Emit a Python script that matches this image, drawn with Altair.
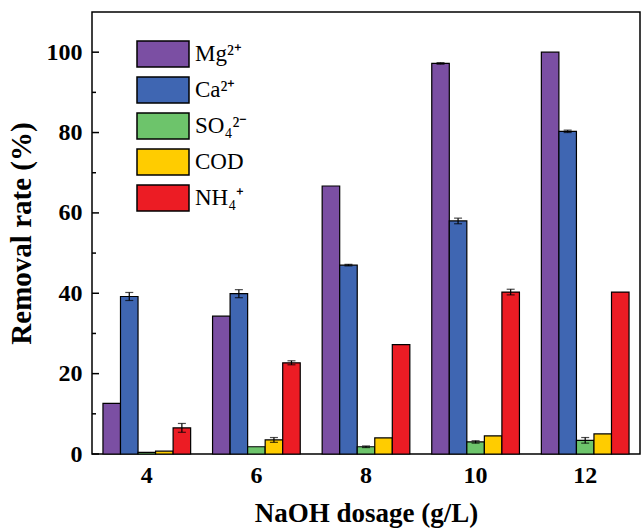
import altair as alt
import pandas as pd

dosage = ["4", "6", "8", "10", "12"]
series = ["Mg²⁺", "Ca²⁺", "SO₄²⁻", "COD", "NH₄⁺"]
colors = ["#7B4FA3", "#3F66B2", "#6DC46B", "#FFCC00", "#EC1C24"]

mg = [12.6, 34.3, 66.7, 97.2, 100.0]
ca = [39.2, 39.9, 47.0, 58.0, 80.3]
so4 = [0.4, 1.8, 1.8, 3.0, 3.4]
cod = [0.7, 3.5, 4.0, 4.5, 5.0]
nh4 = [6.5, 22.7, 27.2, 40.3, 40.3]

mg_err = [0.0, 0.0, 0.0, 0.2, 0.0]
ca_err = [1.0, 1.0, 0.2, 0.7, 0.3]
so4_err = [0.0, 0.0, 0.2, 0.3, 0.7]
cod_err = [0.0, 0.6, 0.0, 0.0, 0.0]
nh4_err = [1.1, 0.5, 0.0, 0.7, 0.0]

major_ticks = [0, 20, 40, 60, 80, 100]
minor_ticks = [10, 30, 50, 70, 90]

rows = []
for s, vals, errs in zip(series, [mg, ca, so4, cod, nh4],
                         [mg_err, ca_err, so4_err, cod_err, nh4_err]):
    for d, v, e in zip(dosage, vals, errs):
        rows.append({"dosage": d, "series": s, "value": v, "err": e,
                     "lo": v - e, "hi": v + e})
df = pd.DataFrame(rows)
df_err = df[df["err"] > 0]

FONT = "Liberation Serif"

x_enc = alt.X("dosage:N", sort=dosage,
              scale=alt.Scale(paddingInner=0.2, paddingOuter=0.1),
              axis=alt.Axis(title="NaOH dosage (g/L)", labelAngle=0, ticks=False,
                            domain=False, labelPadding=9, titlePadding=13,
                            titleFontSize=27))
xo = alt.XOffset("series:N", sort=series, scale=alt.Scale(paddingInner=0, paddingOuter=0))
y_scale = alt.Scale(domain=[0, 110], nice=False)

bars = alt.Chart(df).mark_bar(stroke="black", strokeWidth=1.2).encode(
    x=x_enc,
    xOffset=xo,
    y=alt.Y("value:Q", scale=y_scale,
            axis=alt.Axis(title="Removal rate (%)", values=major_ticks, ticks=False,
                          domain=False, grid=False, labelPadding=10, titlePadding=10)),
    color=alt.Color("series:N", sort=series,
                    scale=alt.Scale(domain=series, range=colors),
                    legend=alt.Legend(title=None, orient="none", legendX=57, legendY=28,
                                      symbolType="M-2,-1H2V1H-2Z", symbolSize=676,
                                      symbolStrokeColor="black", symbolStrokeWidth=1.5,
                                      symbolOpacity=1, labelFont=FONT, labelFontSize=23,
                                      labelColor="black", labelOffset=18, rowPadding=4,
                                      padding=0)),
)

err_rule = alt.Chart(df_err).mark_rule(color="black", strokeWidth=1.2).encode(
    x=alt.X("dosage:N", sort=dosage),
    xOffset=xo,
    y=alt.Y("lo:Q", scale=y_scale),
    y2="hi:Q",
)
cap_lo = alt.Chart(df_err).mark_tick(color="black", thickness=1.2, size=8, orient="horizontal").encode(
    x=alt.X("dosage:N", sort=dosage), xOffset=xo, y=alt.Y("lo:Q", scale=y_scale))
cap_hi = alt.Chart(df_err).mark_tick(color="black", thickness=1.2, size=8, orient="horizontal").encode(
    x=alt.X("dosage:N", sort=dosage), xOffset=xo, y=alt.Y("hi:Q", scale=y_scale))

maj = alt.Chart(pd.DataFrame({"t": major_ticks})).mark_rule(color="black", strokeWidth=1.5).encode(
    y=alt.Y("t:Q", scale=y_scale), x=alt.value(0), x2=alt.value(7))
mnr = alt.Chart(pd.DataFrame({"t": minor_ticks})).mark_rule(color="black", strokeWidth=1.5).encode(
    y=alt.Y("t:Q", scale=y_scale), x=alt.value(0), x2=alt.value(4))

chart = alt.layer(bars, err_rule, cap_lo, cap_hi, maj, mnr).properties(
    width=548, height=442,
    autosize=alt.AutoSizeParams(type="none"),
    padding={"left": 92, "top": 12, "right": 3, "bottom": 76},
).configure_view(stroke="black", strokeWidth=1.5).configure_axis(
    labelFont=FONT, labelFontSize=24, labelFontWeight="bold", labelColor="black",
    titleFont=FONT, titleFontSize=29, titleFontWeight="bold", titleColor="black",
)

chart.save("out.html", embed_options={"renderer": "svg", "actions": False})
